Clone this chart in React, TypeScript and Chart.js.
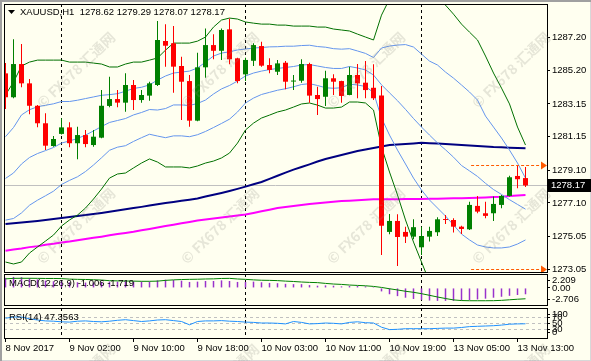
import React, { useEffect, useRef } from 'react';
import { Chart, registerables } from 'chart.js';

Chart.register(...registerables);

// ---------------- data ----------------
const xTickIndex = [0, 8, 16, 24, 32, 40, 48, 56, 64];
const xTickLabels = ['8 Nov 2017', '9 Nov 02:00', '9 Nov 10:00', '9 Nov 18:00', '10 Nov 03:00', '10 Nov 11:00', '10 Nov 19:00', '13 Nov 05:00', '13 Nov 13:00'];
const daySeparators = [7, 30, 52];

const open = [1285.02, 1283.56, 1285.59, 1284.41, 1283.04, 1281.97, 1280.58, 1281.32, 1281.72, 1280.75,
  1281.25, 1280.64, 1281.09, 1283.03, 1283.45, 1283.23, 1284.31, 1283.39, 1283.66, 1284.31,
  1287.00, 1286.86, 1285.47, 1284.55, 1282.13, 1285.39, 1286.75, 1286.40, 1287.71, 1285.94,
  1284.96, 1285.79, 1286.69, 1285.53, 1285.12, 1285.67, 1284.52, 1284.57, 1285.59, 1283.70,
  1283.59, 1284.72, 1284.55, 1283.70, 1284.92, 1284.45, 1284.14, 1283.66, 1275.33, 1276.00,
  1275.33, 1275.04, 1274.39, 1275.04, 1275.31, 1276.10, 1276.06, 1275.65, 1275.49, 1276.92,
  1276.47, 1276.47, 1276.98, 1277.53, 1278.75, 1278.62];
const high = [1285.65, 1287.10, 1286.81, 1284.68, 1283.08, 1282.58, 1281.19, 1282.27, 1282.03, 1281.76,
  1281.56, 1281.56, 1284.00, 1284.82, 1284.00, 1285.02, 1284.61, 1284.00, 1284.51, 1288.22,
  1288.02, 1287.91, 1286.04, 1284.92, 1286.28, 1287.77, 1287.41, 1287.77, 1288.38, 1285.98,
  1285.98, 1286.86, 1286.95, 1285.94, 1285.84, 1285.78, 1284.92, 1285.88, 1285.67, 1284.20,
  1285.18, 1284.96, 1284.57, 1285.43, 1285.59, 1285.78, 1285.57, 1284.25, 1276.43, 1276.41,
  1275.65, 1276.10, 1275.65, 1275.65, 1276.23, 1276.37, 1276.17, 1275.71, 1277.18, 1277.53,
  1277.18, 1277.49, 1277.59, 1278.77, 1279.42, 1279.29];
const low = [1282.84, 1283.50, 1284.17, 1282.52, 1281.72, 1280.34, 1280.54, 1281.28, 1280.50, 1279.77,
  1280.50, 1280.54, 1281.05, 1282.95, 1282.95, 1282.68, 1282.78, 1283.23, 1283.35, 1284.25,
  1285.43, 1283.84, 1282.17, 1281.76, 1282.10, 1284.75, 1285.88, 1285.84, 1285.57, 1284.41,
  1284.55, 1285.47, 1285.43, 1285.02, 1284.92, 1284.05, 1284.00, 1284.45, 1283.23, 1282.48,
  1283.03, 1283.70, 1283.23, 1283.68, 1283.50, 1283.50, 1283.39, 1273.92, 1275.18, 1273.25,
  1274.66, 1274.88, 1273.92, 1274.74, 1275.08, 1275.82, 1275.29, 1275.21, 1275.45, 1276.47,
  1276.17, 1276.00, 1276.78, 1277.49, 1278.00, 1278.07];
const close = [1283.56, 1285.59, 1284.41, 1283.04, 1281.97, 1280.60, 1281.01, 1281.72, 1280.75, 1281.25,
  1280.70, 1281.15, 1283.04, 1283.45, 1283.23, 1284.31, 1283.39, 1283.70, 1284.41, 1287.06,
  1286.71, 1285.43, 1284.51, 1282.13, 1285.39, 1286.75, 1286.40, 1287.67, 1285.88, 1284.55,
  1285.84, 1286.75, 1285.49, 1285.23, 1285.63, 1284.51, 1284.57, 1285.59, 1283.66, 1283.45,
  1284.72, 1284.51, 1283.64, 1284.92, 1284.41, 1284.00, 1283.50, 1275.71, 1276.00, 1275.02,
  1275.04, 1275.62, 1275.08, 1275.39, 1276.10, 1276.06, 1275.65, 1275.51, 1276.98, 1276.57,
  1276.31, 1277.04, 1277.53, 1278.67, 1278.55, 1278.17];

const bbOuterUpper = [1283.70, 1284.49, 1285.47, 1285.71, 1285.83, 1285.83, 1285.83, 1285.83, 1285.71, 1285.71,
  1285.71, 1285.65, 1285.59, 1285.41, 1285.41, 1285.59, 1285.71, 1285.71, 1285.83, 1285.96,
  1286.44, 1286.87, 1286.87, 1286.87, 1286.99, 1287.24, 1287.85, 1288.28, 1288.40, 1288.34,
  1288.16, 1288.09, 1288.03, 1288.03, 1287.97, 1287.97, 1287.91, 1287.91, 1287.91, 1287.85,
  1287.85, 1287.73, 1287.67, 1287.61, 1287.42, 1287.24, 1287.06, 1288.58, 1289.56, 1290.11,
  1290.36, 1290.42, 1290.29, 1290.05, 1289.68, 1289.19, 1288.64, 1288.03, 1287.54, 1287.06,
  1286.08, 1285.04, 1284.12, 1283.15, 1281.74, 1280.64];
const bbOuterLower = [1273.49, 1273.37, 1273.49, 1274.04, 1274.41, 1274.77, 1275.14, 1275.69, 1276.06, 1276.36,
  1276.79, 1277.34, 1277.95, 1278.62, 1278.87, 1278.93, 1279.24, 1279.54, 1279.79, 1279.60,
  1279.30, 1279.30, 1279.30, 1279.24, 1279.36, 1279.54, 1279.66, 1279.85, 1280.15, 1280.76,
  1281.56, 1281.98, 1282.29, 1282.47, 1282.66, 1282.78, 1282.96, 1283.15, 1283.21, 1283.08,
  1282.90, 1282.90, 1282.96, 1283.27, 1283.27, 1283.21, 1282.78, 1280.52, 1278.99, 1277.59,
  1276.06, 1274.71, 1273.49, 1272.27, 1271.84, 1271.48, 1271.17, 1270.74, 1270.56, 1270.38,
  1270.50, 1270.80, 1271.11, 1271.48, 1272.27, 1272.82];
const bbMiddle = [1278.60, 1278.93, 1279.48, 1279.88, 1280.12, 1280.30, 1280.49, 1280.76, 1280.89, 1281.04,
  1281.25, 1281.50, 1281.77, 1282.02, 1282.14, 1282.26, 1282.48, 1282.63, 1282.81, 1282.78,
  1282.87, 1283.09, 1283.09, 1283.06, 1283.18, 1283.39, 1283.76, 1284.07, 1284.28, 1284.55,
  1284.86, 1285.04, 1285.16, 1285.25, 1285.32, 1285.38, 1285.44, 1285.53, 1285.56, 1285.47,
  1285.38, 1285.32, 1285.32, 1285.44, 1285.35, 1285.23, 1284.92, 1284.32, 1283.83, 1283.35,
  1282.82, 1282.26, 1281.74, 1281.25, 1280.77, 1280.35, 1279.90, 1279.39, 1279.06, 1278.72,
  1278.30, 1277.92, 1277.62, 1277.30, 1277.01, 1276.72];
const bbInnerUpper = [1281.15, 1281.71, 1282.48, 1282.80, 1282.98, 1283.07, 1283.16, 1283.30, 1283.30, 1283.38,
  1283.48, 1283.58, 1283.68, 1283.72, 1283.78, 1283.93, 1284.10, 1284.17, 1284.32, 1284.61,
  1284.86, 1285.04, 1285.10, 1285.16, 1285.35, 1285.71, 1286.08, 1286.26, 1286.34, 1286.45,
  1286.51, 1286.57, 1286.60, 1286.64, 1286.65, 1286.68, 1286.68, 1286.72, 1286.74, 1286.66,
  1286.62, 1286.53, 1286.50, 1286.53, 1286.39, 1286.24, 1285.99, 1286.57, 1286.69, 1286.75,
  1286.78, 1286.63, 1286.20, 1285.77, 1285.53, 1285.10, 1284.73, 1284.31, 1283.88, 1283.39,
  1282.41, 1281.74, 1281.07, 1280.33, 1279.54, 1278.62];
const bbInnerLower = [1276.05, 1276.15, 1276.49, 1276.96, 1277.27, 1277.54, 1277.82, 1278.23, 1278.48, 1278.70,
  1279.02, 1279.42, 1279.86, 1280.32, 1280.51, 1280.60, 1280.86, 1281.09, 1281.30, 1281.19,
  1281.09, 1281.20, 1281.20, 1281.15, 1281.27, 1281.47, 1281.71, 1281.96, 1282.22, 1282.66,
  1283.21, 1283.51, 1283.73, 1283.86, 1283.99, 1284.08, 1284.20, 1284.34, 1284.39, 1284.28,
  1284.14, 1284.11, 1284.14, 1284.36, 1284.31, 1284.22, 1283.85, 1282.29, 1281.25, 1280.33,
  1279.48, 1278.62, 1277.89, 1277.28, 1276.79, 1276.30, 1275.75, 1275.20, 1274.84, 1274.53,
  1274.41, 1274.35, 1274.35, 1274.41, 1274.59, 1274.84];
const maNavy = [1275.81, 1275.86, 1275.91, 1275.95, 1276.00, 1276.06, 1276.12, 1276.18, 1276.24, 1276.30,
  1276.36, 1276.42, 1276.49, 1276.56, 1276.64, 1276.71, 1276.79, 1276.86, 1276.94, 1277.02,
  1277.10, 1277.16, 1277.23, 1277.30, 1277.37, 1277.49, 1277.60, 1277.71, 1277.83, 1277.96,
  1278.10, 1278.24, 1278.38, 1278.57, 1278.76, 1278.95, 1279.14, 1279.30, 1279.46, 1279.63,
  1279.79, 1279.91, 1280.03, 1280.15, 1280.27, 1280.37, 1280.46, 1280.55, 1280.64, 1280.68,
  1280.71, 1280.74, 1280.78, 1280.75, 1280.73, 1280.70, 1280.67, 1280.64, 1280.61, 1280.58,
  1280.55, 1280.52, 1280.51, 1280.48, 1280.46, 1280.44];
const maMagenta = [1274.18, 1274.26, 1274.32, 1274.40, 1274.46, 1274.54, 1274.60, 1274.68, 1274.74, 1274.82,
  1274.90, 1274.97, 1275.04, 1275.12, 1275.20, 1275.27, 1275.34, 1275.43, 1275.51, 1275.60,
  1275.69, 1275.77, 1275.86, 1275.94, 1276.03, 1276.09, 1276.15, 1276.21, 1276.27, 1276.33,
  1276.39, 1276.49, 1276.59, 1276.69, 1276.79, 1276.85, 1276.91, 1276.97, 1277.04, 1277.08,
  1277.13, 1277.17, 1277.22, 1277.24, 1277.27, 1277.30, 1277.32, 1277.32, 1277.33, 1277.33,
  1277.34, 1277.34, 1277.34, 1277.35, 1277.36, 1277.37, 1277.38, 1277.39, 1277.40, 1277.42,
  1277.44, 1277.46, 1277.48, 1277.52, 1277.55, 1277.59];

const macdMain = [1.6, 1.75, 1.7, 1.55, 1.35, 1.15, 1.05, 1.0, 0.9, 0.9,
  0.85, 0.85, 0.95, 1.0, 1.0, 1.05, 1.0, 1.0, 1.0, 1.2,
  1.3, 1.25, 1.15, 0.95, 1.0, 1.1, 1.1, 1.2, 1.1, 0.95,
  0.95, 1.0, 0.9, 0.8, 0.75, 0.65, 0.6, 0.6, 0.45, 0.35,
  0.4, 0.35, 0.25, 0.3, 0.3, 0.25, 0.15, -0.55, -1.0, -1.3,
  -1.55, -1.75, -1.9, -2.0, -2.05, -2.05, -2.05, -2.0, -1.92, -1.82,
  -1.7, -1.55, -1.4, -1.25, -1.12, -1.006];
const macdSignal = [1.44, 1.52, 1.53, 1.53, 1.52, 1.5, 1.5, 1.48, 1.4, 1.36,
  1.34, 1.3, 1.25, 1.15, 1.12, 1.1, 1.08, 1.05, 1.05, 1.08,
  1.2, 1.28, 1.33, 1.36, 1.38, 1.42, 1.44, 1.5, 1.52, 1.42,
  1.36, 1.28, 1.22, 1.2, 1.16, 1.08, 1.02, 0.94, 0.88, 0.84,
  0.72, 0.62, 0.56, 0.46, 0.4, 0.34, 0.24, 0.08, -0.13, -0.32,
  -0.53, -0.69, -0.91, -1.17, -1.44, -1.68, -1.9, -2.0, -2.03, -2.03,
  -2.03, -2.02, -1.97, -1.88, -1.79, -1.719];
const rsi = [66, 70, 70, 64, 60, 57, 56, 54, 53, 56,
  57, 55, 54, 56, 59, 61, 58, 55, 57, 60,
  61, 58, 55, 44, 55, 57, 57, 58, 56, 55,
  53, 52, 50, 50, 49, 47, 55, 52, 47, 48,
  50, 49, 47, 52, 54, 51, 50, 36, 28, 29,
  31, 31, 31, 31, 32, 33, 33, 35, 38, 39,
  40, 41, 43, 46, 47, 47.36];

const priceTicks = [1273.05, 1275.05, 1277.10, 1279.10, 1281.15, 1283.15, 1285.20, 1287.20];
const priceMin = 1272.88;
const priceMax = 1289.26;
const lastPrice = 1278.17;
const levelLines = [1279.38, 1273.05];
const levelStartBar = 58.2;
const macdMin = -2.706;
const macdMax = 2.209;
const macdTicks = [2.209, 0, -2.706];
const macdTickLabels = ['2.209', '0.00', '-2.706'];
const rsiTicks = [100, 70, 50, 30, 0];
const rsiTickLabels = ['100', '70', '50', '30', '0'];
const rsiLevels = [70, 50, 30];
const titleText = 'XAUUSD,H1  1278.62 1279.29 1278.07 1278.17';
const macdText = 'MACD(12,26,9) -1.006 -1.719';
const rsiText = 'RSI(14) 47.3563';
const watermarkText = '© FX678 汇通网';
const watermarkCols = [76, 220, 366, 511];
const watermarkRows = [70, 226, 382];

// ---------------- styling / layout ----------------
const W = 591;
const H = 361;
const BG = '#FFFFF0';
const FAMILY = '"Liberation Sans", Arial, sans-serif';
const FSIZE = 9.5;
const FONT = { family: FAMILY, size: FSIZE };
const FONT_STR = `${FSIZE}px ${FAMILY}`;
const AXIS_W = 44;
const X_MIN = -0.1875;
const X_MAX = X_MIN + 543 / 8;
const UP = '#008000';
const DOWN = '#FF0000';

const idx = open.map((_, i) => i);

function insideTicks(values: number[], min: number, max: number, px: number, margin = 6) {
  const u = (max - min) / px;
  return values.map((v) => ({ value: Math.min(max - margin * u, Math.max(min + margin * u, v)) }));
}

function xScale(display: boolean): any {
  return {
    type: 'linear', min: X_MIN, max: X_MAX, offset: false, display,
    grid: { display: false }, border: { display: false }, ticks: { display: false },
  };
}

function yAxis(min: number, max: number, ticksFn: (s: any) => void, labelFn: (v: number, i: number) => string): any {
  return {
    type: 'linear', position: 'right', min, max,
    afterBuildTicks: ticksFn,
    afterFit: (s: any) => { s.width = AXIS_W; s.paddingTop = 0; s.paddingBottom = 0; },
    ticks: { autoSkip: false, callback: labelFn, font: FONT, color: '#000', padding: 2 },
    grid: { drawOnChartArea: false, drawTicks: true, tickLength: 3, color: '#000' },
    border: { display: false },
  };
}

function drawSeparators(chart: any) {
  const { ctx, chartArea: a, scales } = chart;
  ctx.save();
  ctx.strokeStyle = '#000';
  ctx.lineWidth = 1;
  ctx.setLineDash([3, 3]);
  daySeparators.forEach((i) => {
    const px = Math.floor(scales.x.getPixelForValue(i)) + 0.5;
    ctx.beginPath();
    ctx.moveTo(px, a.top);
    ctx.lineTo(px, a.bottom);
    ctx.stroke();
  });
  ctx.restore();
}

function drawFrame(chart: any) {
  const { ctx, chartArea: a } = chart;
  ctx.save();
  ctx.strokeStyle = '#000';
  ctx.lineWidth = 1;
  ctx.strokeRect(a.left + 0.5, a.top + 0.5, a.right - a.left, a.bottom - a.top);
  ctx.restore();
}

function drawLabel(chart: any, text: string, dy: number) {
  const { ctx, chartArea: a } = chart;
  ctx.save();
  ctx.font = FONT_STR;
  ctx.fillStyle = '#000';
  ctx.textBaseline = 'middle';
  ctx.textAlign = 'left';
  ctx.fillText(text, a.left + 5, a.top + dy);
  ctx.restore();
}

function drawWatermarks(chart: any) {
  const { ctx } = chart;
  ctx.save();
  ctx.font = 'bold 14px "Noto Sans CJK SC", "DejaVu Sans", sans-serif';
  ctx.fillStyle = 'rgba(140, 140, 130, 0.22)';
  ctx.textAlign = 'center';
  ctx.textBaseline = 'middle';
  watermarkRows.forEach((cy) => {
    watermarkCols.forEach((cx) => {
      ctx.save();
      ctx.translate(cx, cy);
      ctx.rotate(-Math.PI / 4.1);
      ctx.fillText(watermarkText, 0, 0);
      ctx.restore();
    });
  });
  ctx.restore();
}

const line = (data: number[], color: string, width = 1, order = 2) => ({
  type: 'line', data, borderColor: color, borderWidth: width, pointRadius: 0, fill: false, tension: 0, order,
});

function mainConfig(): any {
  const colors = idx.map((i) => (close[i] >= open[i] ? UP : DOWN));
  const plugin = {
    id: 'mainDecor',
    beforeDatasetsDraw(chart: any) {
      const { ctx, chartArea: a, scales } = chart;
      ctx.save();
      ctx.strokeStyle = '#C0C0C0';
      ctx.lineWidth = 1;
      const py = Math.floor(scales.y.getPixelForValue(lastPrice)) + 0.5;
      ctx.beginPath(); ctx.moveTo(a.left, py); ctx.lineTo(a.right, py); ctx.stroke();
      ctx.restore();
      drawSeparators(chart);
    },
    afterDraw(chart: any) {
      const { ctx, chartArea: a, scales } = chart;
      ctx.save();
      ctx.strokeStyle = '#FF5A00';
      ctx.fillStyle = '#FF5A00';
      ctx.lineWidth = 1;
      ctx.setLineDash([3, 2]);
      levelLines.forEach((v) => {
        const py = Math.floor(scales.y.getPixelForValue(v)) + 0.5;
        const x0 = scales.x.getPixelForValue(levelStartBar);
        ctx.beginPath(); ctx.moveTo(x0, py); ctx.lineTo(a.right - 7, py); ctx.stroke();
        ctx.beginPath();
        ctx.moveTo(a.right - 6, py - 4); ctx.lineTo(a.right, py); ctx.lineTo(a.right - 6, py + 4);
        ctx.closePath(); ctx.fill();
      });
      ctx.restore();
      drawFrame(chart);
      ctx.save();
      ctx.fillStyle = '#000';
      ctx.beginPath(); ctx.moveTo(8, 10); ctx.lineTo(15, 10); ctx.lineTo(11.5, 14); ctx.closePath(); ctx.fill();
      ctx.font = FONT_STR;
      ctx.textBaseline = 'middle';
      ctx.textAlign = 'left';
      ctx.fillText(titleText, 20, 12.5);
      const yc = Math.round(scales.y.getPixelForValue(lastPrice));
      ctx.fillRect(a.right, yc - 6, W - a.right, 13);
      ctx.fillStyle = '#FFF';
      ctx.fillText(lastPrice.toFixed(2), a.right + 4, yc + 0.5);
      ctx.restore();
    },
  };
  return {
    type: 'bar',
    data: {
      labels: idx,
      datasets: [
        { type: 'bar', data: idx.map((i) => [low[i], high[i]]), backgroundColor: colors, barThickness: 1, grouped: false, borderWidth: 0, inflateAmount: 0, order: 1 },
        { type: 'bar', data: idx.map((i) => [open[i], close[i]]), backgroundColor: colors, barThickness: 5, grouped: false, borderWidth: 0, inflateAmount: 0, minBarLength: 1, order: 0 },
        line(bbOuterUpper, '#007000'),
        line(bbOuterLower, '#007000'),
        line(bbInnerUpper, '#6495ED'),
        line(bbMiddle, '#6495ED'),
        line(bbInnerLower, '#6495ED'),
        line(maNavy, '#000080', 2),
        line(maMagenta, '#FF00FF', 2),
      ],
    },
    options: {
      animation: false, responsive: false, maintainAspectRatio: false,
      layout: { padding: { left: 4, top: 4, right: 0, bottom: H - 272 } },
      plugins: { legend: { display: false }, tooltip: { enabled: false }, title: { display: false } },
      events: [],
      scales: {
        x: xScale(false),
        y: yAxis(priceMin, priceMax, (s: any) => { s.ticks = priceTicks.map((v) => ({ value: v })); }, (v: number) => Number(v).toFixed(2)),
      },
    },
    plugins: [plugin],
  };
}

function macdConfig(): any {
  const plugin = {
    id: 'macdDecor',
    beforeDatasetsDraw(chart: any) { drawSeparators(chart); },
    afterDatasetsDraw(chart: any) { drawLabel(chart, macdText, 9.5); },
    afterDraw(chart: any) { drawFrame(chart); },
  };
  return {
    type: 'bar',
    data: {
      labels: idx,
      datasets: [
        { type: 'bar', data: macdMain, backgroundColor: '#9932CC', barThickness: 1.5, grouped: false, borderWidth: 0, inflateAmount: 0, order: 1 },
        line(macdSignal, '#008000', 1, 0),
      ],
    },
    options: {
      animation: false, responsive: false, maintainAspectRatio: false,
      layout: { padding: { left: 4, top: 274, right: 0, bottom: H - 305 } },
      plugins: { legend: { display: false }, tooltip: { enabled: false } },
      events: [],
      scales: {
        x: xScale(false),
        y: yAxis(macdMin, macdMax, (s: any) => { s.ticks = insideTicks(macdTicks, macdMin, macdMax, 31); }, (_v: number, i: number) => macdTickLabels[i]),
      },
    },
    plugins: [plugin],
  };
}

function rsiConfig(): any {
  const plugin = {
    id: 'rsiDecor',
    beforeDatasetsDraw(chart: any) {
      const { ctx, chartArea: a, scales } = chart;
      ctx.save();
      ctx.strokeStyle = '#C0C0C0';
      ctx.lineWidth = 1;
      ctx.setLineDash([3, 3]);
      rsiLevels.forEach((v) => {
        const py = Math.floor(scales.y.getPixelForValue(v)) + 0.5;
        ctx.beginPath(); ctx.moveTo(a.left, py); ctx.lineTo(a.right, py); ctx.stroke();
      });
      ctx.restore();
      drawSeparators(chart);
    },
    afterDatasetsDraw(chart: any) { drawLabel(chart, rsiText, 9); },
    afterDraw(chart: any) { drawFrame(chart); drawWatermarks(chart); },
  };
  return {
    type: 'line',
    data: {
      labels: idx,
      datasets: [line(rsi, '#1E90FF', 1, 0)],
    },
    options: {
      animation: false, responsive: false, maintainAspectRatio: false,
      layout: { padding: { left: 4, top: 308, right: 0, bottom: 0 } },
      plugins: { legend: { display: false }, tooltip: { enabled: false } },
      events: [],
      scales: {
        x: {
          type: 'linear', min: X_MIN, max: X_MAX, offset: false, display: true, position: 'bottom',
          afterBuildTicks: (s: any) => { s.ticks = xTickIndex.map((v) => ({ value: v })); },
          afterFit: (s: any) => { s.height = H - 338; s.paddingLeft = 0; s.paddingRight = 0; },
          ticks: { autoSkip: false, maxRotation: 0, minRotation: 0, align: 'start', padding: 1, color: '#000', font: FONT, callback: (_v: number, i: number) => xTickLabels[i] },
          grid: { drawOnChartArea: false, drawTicks: true, tickLength: 4, color: '#000' },
          border: { display: false },
        },
        y: yAxis(0, 100, (s: any) => { s.ticks = insideTicks(rsiTicks, 0, 100, 30); }, (_v: number, i: number) => rsiTickLabels[i]),
      },
    },
    plugins: [plugin],
  };
}

export default function App() {
  const mainRef = useRef<HTMLCanvasElement>(null);
  const macdRef = useRef<HTMLCanvasElement>(null);
  const rsiRef = useRef<HTMLCanvasElement>(null);

  useEffect(() => {
    const charts: Chart[] = [];
    if (mainRef.current) charts.push(new Chart(mainRef.current, mainConfig()));
    if (macdRef.current) charts.push(new Chart(macdRef.current, macdConfig()));
    if (rsiRef.current) charts.push(new Chart(rsiRef.current, rsiConfig()));
    return () => charts.forEach((c) => c.destroy());
  }, []);

  const cs: React.CSSProperties = { position: 'absolute', left: 0, top: 0, width: W, height: H };
  return (
    <div style={{ position: 'fixed', left: 0, top: 0, width: W, height: H, background: BG, overflow: 'hidden', boxShadow: 'inset 2px 2px 0 #a0a0a0, inset -1px -1px 0 #d8d8d8' }}>
      <canvas ref={mainRef} width={W} height={H} style={cs} />
      <canvas ref={macdRef} width={W} height={H} style={cs} />
      <canvas ref={rsiRef} width={W} height={H} style={cs} />
    </div>
  );
}
